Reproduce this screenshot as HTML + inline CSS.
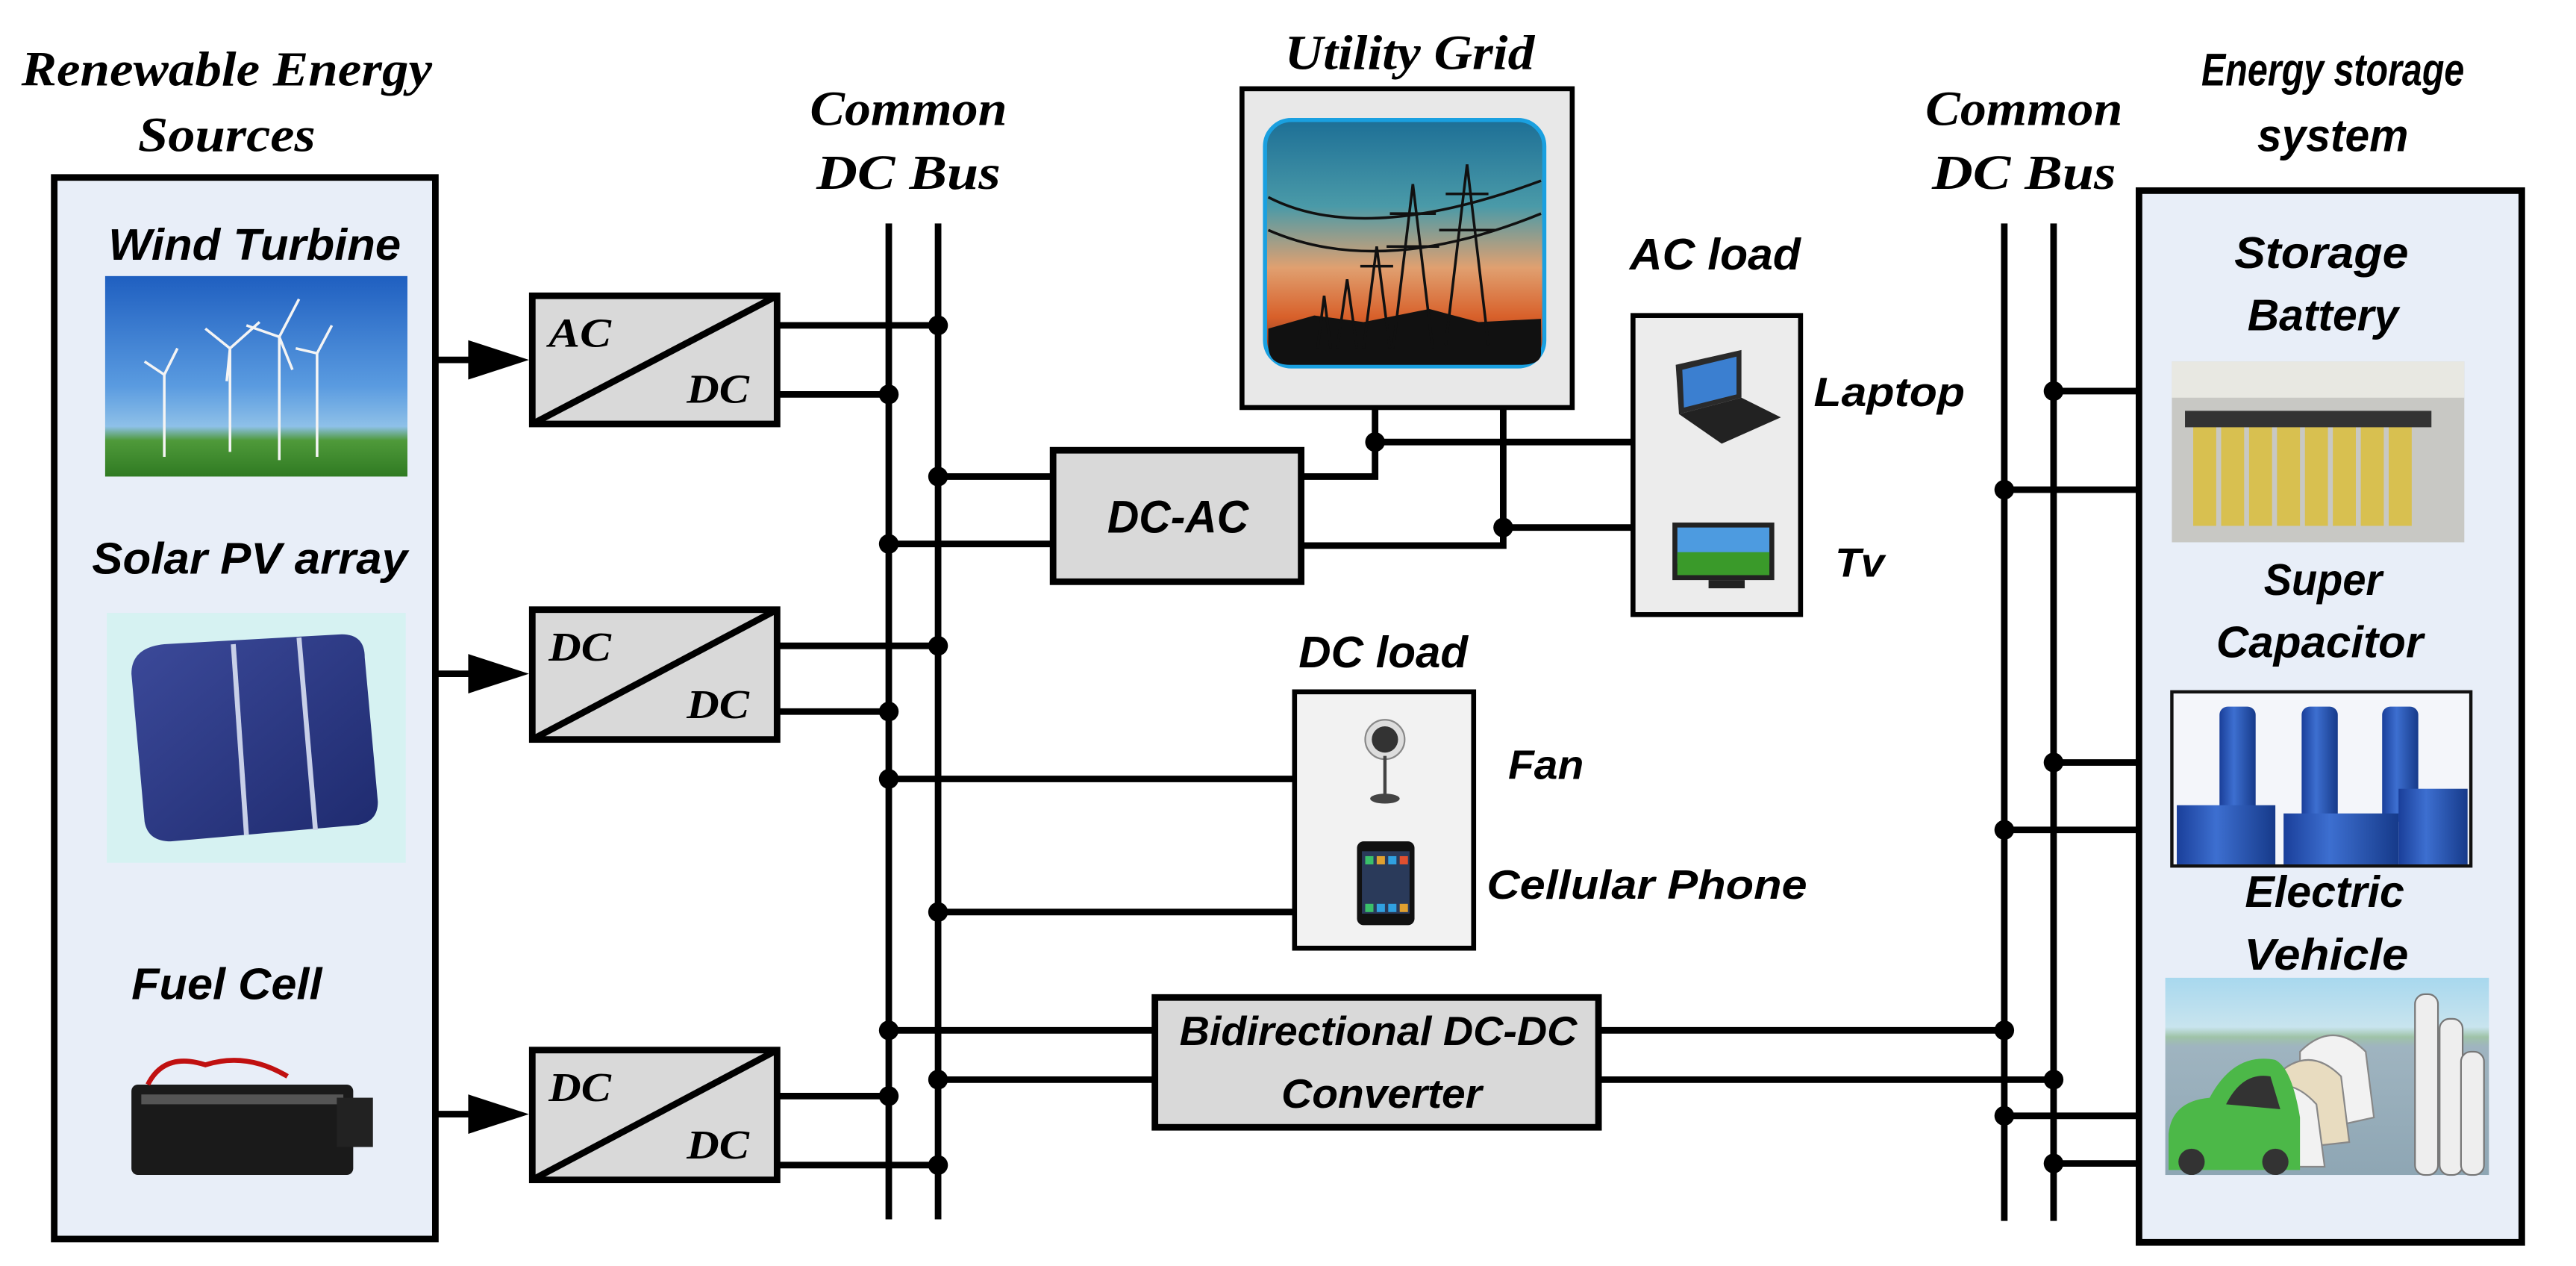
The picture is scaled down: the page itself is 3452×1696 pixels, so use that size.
<!DOCTYPE html>
<html><head><meta charset="utf-8"><style>
html,body{margin:0;padding:0;background:#fff;}
svg{display:block;}
.h{font-family:"Liberation Serif",serif;font-weight:bold;font-style:italic;}
.s{font-family:"Liberation Sans",sans-serif;font-weight:bold;font-style:italic;}
</style></head><body>
<svg width="3452" height="1696" viewBox="0 0 1568 770.4" preserveAspectRatio="none" xmlns="http://www.w3.org/2000/svg">
<defs>
<linearGradient id="sky" x1="0" y1="0" x2="0" y2="1"><stop offset="0" stop-color="#1f5fc0"/><stop offset="0.55" stop-color="#5a9be0"/><stop offset="0.75" stop-color="#8ec0e8"/><stop offset="0.82" stop-color="#4f9a3a"/><stop offset="1" stop-color="#2f7a22"/></linearGradient>
<linearGradient id="sunset" x1="0" y1="0" x2="0" y2="1"><stop offset="0" stop-color="#1d6f96"/><stop offset="0.35" stop-color="#4a9aa8"/><stop offset="0.6" stop-color="#e0a070"/><stop offset="0.8" stop-color="#d8602a"/><stop offset="1" stop-color="#5a2a20"/></linearGradient>
<linearGradient id="solar" x1="0" y1="0" x2="1" y2="1"><stop offset="0" stop-color="#3c4a9a"/><stop offset="1" stop-color="#1e2a6e"/></linearGradient>
<linearGradient id="cap" x1="0" y1="0" x2="1" y2="0"><stop offset="0" stop-color="#1a3f9a"/><stop offset="0.4" stop-color="#3d6fd0"/><stop offset="1" stop-color="#163a8a"/></linearGradient>
<linearGradient id="ev" x1="0" y1="0" x2="0" y2="1"><stop offset="0" stop-color="#a8d8ee"/><stop offset="0.25" stop-color="#c8e4ee"/><stop offset="0.3" stop-color="#9fc3a8"/><stop offset="0.35" stop-color="#9fb4c0"/><stop offset="1" stop-color="#8ea6b4"/></linearGradient>
</defs>

<text class="h" x="138" y="52" font-size="30" text-anchor="middle" textLength="250" lengthAdjust="spacingAndGlyphs">Renewable Energy</text>
<text class="h" x="138" y="92" font-size="30" text-anchor="middle" textLength="108" lengthAdjust="spacingAndGlyphs">Sources</text>
<text class="h" x="553" y="76" font-size="30" text-anchor="middle" textLength="120" lengthAdjust="spacingAndGlyphs">Common</text>
<text class="h" x="553" y="115" font-size="30" text-anchor="middle" textLength="112" lengthAdjust="spacingAndGlyphs">DC Bus</text>
<text class="h" x="1232" y="76" font-size="30" text-anchor="middle" textLength="120" lengthAdjust="spacingAndGlyphs">Common</text>
<text class="h" x="1232" y="115" font-size="30" text-anchor="middle" textLength="112" lengthAdjust="spacingAndGlyphs">DC Bus</text>
<text class="h" x="858" y="42" font-size="30" text-anchor="middle" textLength="152" lengthAdjust="spacingAndGlyphs">Utility Grid</text>
<text class="s" x="1420" y="52" font-size="28" text-anchor="middle" textLength="160" lengthAdjust="spacingAndGlyphs">Energy storage</text>
<text class="s" x="1420" y="92" font-size="28" text-anchor="middle" textLength="92" lengthAdjust="spacingAndGlyphs">system</text>

<rect x="33" y="108" width="232" height="646" fill="#e8eef8" stroke="#000" stroke-width="4"/>
<text class="s" x="155" y="158" font-size="27" text-anchor="middle" textLength="178" lengthAdjust="spacingAndGlyphs">Wind Turbine</text>
<rect x="64" y="168" width="184" height="122" fill="url(#sky)"/>
<g stroke="#f4f4f4" stroke-width="1.6" fill="none">
<line x1="140" y1="212" x2="140" y2="275"/><line x1="140" y1="212" x2="125" y2="200"/><line x1="140" y1="212" x2="158" y2="196"/><line x1="140" y1="212" x2="138" y2="232"/>
<line x1="170" y1="205" x2="170" y2="280"/><line x1="170" y1="205" x2="182" y2="182"/><line x1="170" y1="205" x2="150" y2="198"/><line x1="170" y1="205" x2="178" y2="225"/>
<line x1="100" y1="228" x2="100" y2="278"/><line x1="100" y1="228" x2="88" y2="220"/><line x1="100" y1="228" x2="108" y2="212"/>
<line x1="193" y1="215" x2="193" y2="278"/><line x1="193" y1="215" x2="202" y2="198"/><line x1="193" y1="215" x2="180" y2="212"/>
</g>
<text class="s" x="152" y="349" font-size="27" text-anchor="middle" textLength="192" lengthAdjust="spacingAndGlyphs">Solar PV array</text>
<rect x="65" y="373" width="182" height="152" fill="#d6f2f2"/>
<path d="M100 392 L208 386 Q222 386 222 400 L230 488 Q230 500 218 502 L104 512 Q90 512 88 500 L80 410 Q80 394 100 392Z" fill="url(#solar)"/>
<line x1="142" y1="392" x2="150" y2="508" stroke="#c8d0e8" stroke-width="3"/>
<line x1="182" y1="388" x2="192" y2="505" stroke="#c8d0e8" stroke-width="3"/>
<text class="s" x="138" y="608" font-size="27" text-anchor="middle" textLength="116" lengthAdjust="spacingAndGlyphs">Fuel Cell</text>
<rect x="80" y="660" width="135" height="55" rx="4" fill="#1a1a1a"/>
<rect x="86" y="666" width="123" height="6" fill="#555"/>
<path d="M90 660 Q100 640 125 648 Q150 640 175 655" stroke="#c01010" stroke-width="3" fill="none"/>
<rect x="205" y="668" width="22" height="30" fill="#222"/>

<g fill="#000" stroke="#000" stroke-width="4">
<line x1="265" y1="219" x2="290" y2="219"/><polygon points="285,207 322,219 285,231" stroke="none"/>
<line x1="265" y1="410" x2="290" y2="410"/><polygon points="285,398 322,410 285,422" stroke="none"/>
<line x1="265" y1="678" x2="290" y2="678"/><polygon points="285,666 322,678 285,690" stroke="none"/>
</g>

<g stroke="#000" stroke-width="4">
<rect x="324" y="180" width="149" height="78" fill="#d9d9d9"/><line x1="324" y1="258" x2="473" y2="180"/>
<rect x="324" y="371" width="149" height="79" fill="#d9d9d9"/><line x1="324" y1="450" x2="473" y2="371"/>
<rect x="324" y="639" width="149" height="79" fill="#d9d9d9"/><line x1="324" y1="718" x2="473" y2="639"/>
</g>
<g class="h" font-size="25">
<text x="334" y="211" textLength="38" lengthAdjust="spacingAndGlyphs">AC</text>
<text x="418" y="245" textLength="38" lengthAdjust="spacingAndGlyphs">DC</text>
<text x="334" y="402" textLength="38" lengthAdjust="spacingAndGlyphs">DC</text>
<text x="418" y="437" textLength="38" lengthAdjust="spacingAndGlyphs">DC</text>
<text x="334" y="670" textLength="38" lengthAdjust="spacingAndGlyphs">DC</text>
<text x="418" y="705" textLength="38" lengthAdjust="spacingAndGlyphs">DC</text>
</g>

<g stroke="#000" stroke-width="4" fill="none">
<line x1="541" y1="136" x2="541" y2="742"/><line x1="571" y1="136" x2="571" y2="742"/>
<line x1="1220" y1="136" x2="1220" y2="743"/><line x1="1250" y1="136" x2="1250" y2="743"/>
<line x1="473" y1="198" x2="571" y2="198"/><line x1="473" y1="240" x2="541" y2="240"/>
<line x1="473" y1="393" x2="571" y2="393"/><line x1="473" y1="433" x2="541" y2="433"/>
<line x1="473" y1="667" x2="541" y2="667"/><line x1="473" y1="709" x2="571" y2="709"/>
<line x1="571" y1="290" x2="641" y2="290"/><line x1="541" y1="331" x2="641" y2="331"/>
<polyline points="792,290 837,290 837,248"/><line x1="837" y1="269" x2="994" y2="269"/>
<polyline points="792,332 915,332 915,248"/><line x1="915" y1="321" x2="994" y2="321"/>
<line x1="541" y1="474" x2="788" y2="474"/><line x1="571" y1="555" x2="788" y2="555"/>
<line x1="541" y1="627" x2="703" y2="627"/><line x1="571" y1="657" x2="703" y2="657"/>
<line x1="973" y1="627" x2="1220" y2="627"/><line x1="973" y1="657" x2="1250" y2="657"/>
<line x1="1250" y1="238" x2="1302" y2="238"/><line x1="1220" y1="298" x2="1302" y2="298"/>
<line x1="1250" y1="464" x2="1302" y2="464"/><line x1="1220" y1="505" x2="1302" y2="505"/>
<line x1="1220" y1="679" x2="1302" y2="679"/><line x1="1250" y1="708" x2="1302" y2="708"/>
</g>
<g fill="#000">
<circle cx="571" cy="198" r="6"/><circle cx="541" cy="240" r="6"/>
<circle cx="571" cy="290" r="6"/><circle cx="541" cy="331" r="6"/>
<circle cx="571" cy="393" r="6"/><circle cx="541" cy="433" r="6"/>
<circle cx="541" cy="474" r="6"/><circle cx="571" cy="555" r="6"/>
<circle cx="541" cy="627" r="6"/><circle cx="571" cy="657" r="6"/>
<circle cx="541" cy="667" r="6"/><circle cx="571" cy="709" r="6"/>
<circle cx="837" cy="269" r="6"/><circle cx="915" cy="321" r="6"/>
<circle cx="1220" cy="627" r="6"/><circle cx="1250" cy="657" r="6"/>
<circle cx="1250" cy="238" r="6"/><circle cx="1220" cy="298" r="6"/>
<circle cx="1250" cy="464" r="6"/><circle cx="1220" cy="505" r="6"/>
<circle cx="1220" cy="679" r="6"/><circle cx="1250" cy="708" r="6"/>
</g>

<rect x="641" y="274" width="151" height="80" fill="#d9d9d9" stroke="#000" stroke-width="4"/>
<text class="s" x="717" y="324" font-size="28" text-anchor="middle" textLength="86" lengthAdjust="spacingAndGlyphs">DC-AC</text>

<rect x="756" y="54" width="201" height="194" fill="#e8e8e8" stroke="#000" stroke-width="3"/>
<rect x="770" y="73" width="170" height="150" rx="16" fill="url(#sunset)" stroke="#1aa0e0" stroke-width="2.5"/>
<path d="M772 200 L800 192 L830 196 L870 188 L900 196 L938 194 L938 215 Q938 222 925 222 L785 222 Q772 222 772 210Z" fill="#111"/>
<g stroke="#111" stroke-width="1.6" fill="none">
<path d="M893 100 L880 210 M893 100 L906 210 M880 118 L906 118 M876 140 L910 140"/>
<path d="M860 112 L848 212 M860 112 L872 212 M846 130 L874 130 M844 150 L876 150"/>
<path d="M838 150 L830 212 M838 150 L846 212 M828 162 L848 162"/>
<path d="M820 170 L814 212 M820 170 L826 212"/>
<path d="M806 180 L802 212 M806 180 L810 212"/>
<path d="M772 120 Q830 150 938 110 M772 140 Q840 170 938 130"/>
</g>

<text class="s" x="1044" y="164" font-size="27" text-anchor="middle" textLength="104" lengthAdjust="spacingAndGlyphs">AC load</text>
<rect x="994" y="192" width="102" height="182" fill="#ececec" stroke="#000" stroke-width="3"/>
<polygon points="1020,222 1060,213 1060,242 1022,252" fill="#2a2a2a"/>
<polygon points="1024,225 1057,217 1057,240 1025,248" fill="#3b7fd0"/>
<polygon points="1022,252 1060,242 1084,254 1048,270" fill="#222"/>
<rect x="1018" y="318" width="62" height="35" fill="#222"/>
<rect x="1021" y="321" width="56" height="22" fill="#4d9be0"/><rect x="1021" y="336" width="56" height="14" fill="#3a9a2a"/>
<rect x="1040" y="353" width="22" height="5" fill="#222"/>
<text class="s" x="1104" y="247" font-size="25" textLength="92" lengthAdjust="spacingAndGlyphs">Laptop</text>
<text class="s" x="1117" y="351" font-size="25" textLength="30" lengthAdjust="spacingAndGlyphs">Tv</text>

<text class="s" x="842" y="406" font-size="27" text-anchor="middle" textLength="103" lengthAdjust="spacingAndGlyphs">DC load</text>
<rect x="788" y="421" width="109" height="156" fill="#f2f2f2" stroke="#000" stroke-width="3"/>
<circle cx="843" cy="450" r="12" fill="#ddd" stroke="#888"/>
<circle cx="843" cy="450" r="8" fill="#333"/>
<line x1="843" y1="460" x2="843" y2="484" stroke="#444" stroke-width="2"/>
<ellipse cx="843" cy="486" rx="9" ry="3" fill="#444"/>
<rect x="826" y="512" width="35" height="51" rx="4" fill="#111"/>
<rect x="829" y="518" width="29" height="38" fill="#2a3a5a"/>
<g fill="#3ac06a"><rect x="831" y="521" width="5" height="5"/><rect x="838" y="521" width="5" height="5" fill="#e0a030"/><rect x="845" y="521" width="5" height="5" fill="#30a0e0"/><rect x="852" y="521" width="5" height="5" fill="#e05030"/><rect x="831" y="550" width="5" height="5"/><rect x="838" y="550" width="5" height="5" fill="#30a0e0"/><rect x="845" y="550" width="5" height="5" fill="#30a0e0"/><rect x="852" y="550" width="5" height="5" fill="#e0a030"/></g>
<text class="s" x="918" y="474" font-size="25" textLength="46" lengthAdjust="spacingAndGlyphs">Fan</text>
<text class="s" x="905" y="547" font-size="25" textLength="195" lengthAdjust="spacingAndGlyphs">Cellular Phone</text>

<rect x="703" y="607" width="270" height="79" fill="#d9d9d9" stroke="#000" stroke-width="4"/>
<text class="s" x="839" y="636" font-size="25" text-anchor="middle" textLength="242" lengthAdjust="spacingAndGlyphs">Bidirectional DC-DC</text>
<text class="s" x="841" y="674" font-size="25" text-anchor="middle" textLength="122" lengthAdjust="spacingAndGlyphs">Converter</text>

<rect x="1302" y="116" width="233" height="640" fill="#e8eef8" stroke="#000" stroke-width="4"/>
<text class="s" x="1413" y="163" font-size="27" text-anchor="middle" textLength="106" lengthAdjust="spacingAndGlyphs">Storage</text>
<text class="s" x="1414" y="201" font-size="27" text-anchor="middle" textLength="92" lengthAdjust="spacingAndGlyphs">Battery</text>
<rect x="1322" y="220" width="178" height="110" fill="#c8c8c4"/>
<rect x="1322" y="220" width="178" height="22" fill="#e8e8e2"/>
<g fill="#d8c050"><rect x="1335" y="258" width="14" height="62"/><rect x="1352" y="258" width="14" height="62"/><rect x="1369" y="258" width="14" height="62"/><rect x="1386" y="258" width="14" height="62"/><rect x="1403" y="258" width="14" height="62"/><rect x="1420" y="258" width="14" height="62"/><rect x="1437" y="258" width="14" height="62"/><rect x="1454" y="258" width="14" height="62"/></g>
<rect x="1330" y="250" width="150" height="10" fill="#333"/>
<text class="s" x="1414" y="362" font-size="27" text-anchor="middle" textLength="72" lengthAdjust="spacingAndGlyphs">Super</text>
<text class="s" x="1412" y="400" font-size="27" text-anchor="middle" textLength="126" lengthAdjust="spacingAndGlyphs">Capacitor</text>
<rect x="1322" y="421" width="182" height="106" fill="#f4f6fa" stroke="#111" stroke-width="2"/>
<rect x="1351" y="430" width="22" height="70" rx="5" fill="url(#cap)"/>
<rect x="1401" y="430" width="22" height="70" rx="5" fill="url(#cap)"/>
<rect x="1450" y="430" width="22" height="70" rx="5" fill="url(#cap)"/>
<rect x="1325" y="490" width="60" height="36" fill="url(#cap)"/>
<rect x="1390" y="495" width="70" height="31" fill="url(#cap)"/>
<rect x="1460" y="480" width="42" height="46" fill="url(#cap)"/>
<text class="s" x="1415" y="552" font-size="27" text-anchor="middle" textLength="97" lengthAdjust="spacingAndGlyphs">Electric</text>
<text class="s" x="1416" y="590" font-size="27" text-anchor="middle" textLength="100" lengthAdjust="spacingAndGlyphs">Vehicle</text>
<rect x="1318" y="595" width="197" height="120" fill="url(#ev)"/>
<g fill="#eee" stroke="#777" stroke-width="1"><rect x="1470" y="605" width="14" height="110" rx="6"/><rect x="1485" y="620" width="14" height="95" rx="6"/><rect x="1498" y="640" width="14" height="75" rx="6"/></g>
<path d="M1400 640 Q1420 620 1440 640 L1445 680 L1400 690Z" fill="#f2f2f2" stroke="#888"/>
<path d="M1385 655 Q1405 635 1425 655 L1430 695 L1385 700Z" fill="#e8dcc0" stroke="#888"/>
<path d="M1370 670 Q1390 650 1410 672 L1415 710 L1370 710Z" fill="#f2f2f2" stroke="#888"/>
<path d="M1320 690 Q1322 670 1345 668 Q1360 640 1385 645 Q1395 650 1400 680 L1400 712 L1320 712Z" fill="#4cb848"/>
<path d="M1355 672 Q1365 652 1382 655 L1388 675Z" fill="#333"/>
<circle cx="1334" cy="707" r="8" fill="#333"/><circle cx="1385" cy="707" r="8" fill="#333"/>
</svg>
</body></html>
